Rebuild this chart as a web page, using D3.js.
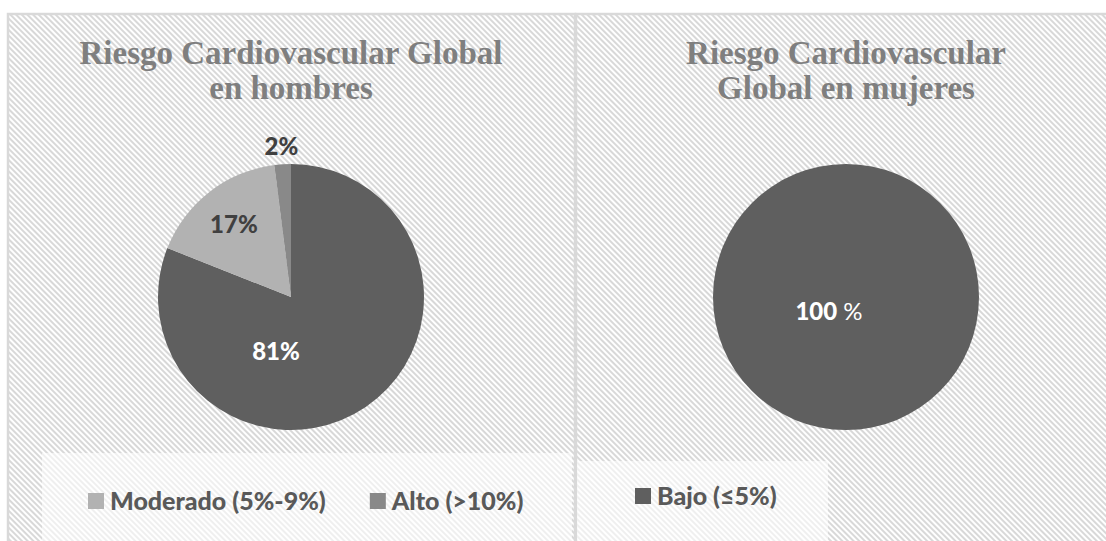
<!DOCTYPE html>
<html>
<head>
<meta charset="utf-8">
<script src="https://cdn.jsdelivr.net/npm/d3@7"></script>
<style>
  body { margin: 0; background: #ffffff; }
  svg { display: block; }
</style>
</head>
<body>
<svg id="chart" width="1106" height="541"></svg>
<script>
// Risk categories and their shares (%) for each group
const categories = ["Bajo (≤5%)", "Moderado (5%-9%)", "Alto (>10%)"];
const menValues = [81, 17, 2];
const womenValues = [100, 0, 0];
const sliceColors = ["#5f5f5f", "#b2b2b2", "#898989"];
const menTitle = ["Riesgo Cardiovascular Global", "en hombres"];
const womenTitle = ["Riesgo Cardiovascular", "Global en mujeres"];
const menLegend = ["Moderado (5%-9%)", "Alto (>10%)"];
const womenLegend = ["Bajo (≤5%)"];

const svg = d3.select("#chart");
const W = 1106, H = 541;

// Diagonal hatch used as the chart-area fill
const defs = svg.append("defs");
const pat = defs.append("pattern")
  .attr("id", "hatch")
  .attr("patternUnits", "userSpaceOnUse")
  .attr("width", 4).attr("height", 4)
  .attr("patternTransform", "rotate(-45)");
pat.append("rect").attr("width", 4).attr("height", 4).attr("fill", "#ffffff");
pat.append("rect").attr("width", 2).attr("height", 4).attr("fill", "#d8d8d8")
  .attr("shape-rendering", "crispEdges");

const color = d3.scaleOrdinal().domain(categories).range(sliceColors);

const panels = [
  { x: 7, w: 567, cx: 291, values: menValues, title: menTitle, legend: menLegend,
    legendBox: { x: 42, y: 453, w: 530 }, legendX: 88, legendBase: 510, legendGap: 44,
    labelPos: [[-15, 53], null, null] },
  { x: 575, w: 560, cx: 846, values: womenValues, title: womenTitle, legend: womenLegend,
    legendBox: { x: 577, y: 461, w: 251 }, legendX: 635, legendBase: 505, legendGap: 44,
    labelPos: [[-17, 13], null, null] }
];

const cy = 297, R = 133, panelTop = 13;

const pie = d3.pie().sort(null).value(d => d.value);
const arc = d3.arc().innerRadius(0).outerRadius(R);

panels.forEach(p => {
  const g = svg.append("g");
  // panel background and border
  g.append("rect")
    .attr("x", p.x + 1).attr("y", panelTop + 1)
    .attr("width", p.w).attr("height", H + 20)
    .attr("fill", "url(#hatch)")
    .attr("stroke", "#d9d9d9").attr("stroke-width", 2.5);

  // title
  const t = g.append("text")
    .attr("text-anchor", "middle")
    .attr("font-family", "'Liberation Serif', serif")
    .attr("font-weight", "bold")
    .attr("font-size", 33)
    .attr("fill", "#7f7f7f");
  p.title.forEach((line, i) => {
    t.append("tspan").attr("x", p.cx).attr("y", 64 + i * 35).text(line);
  });

  // legend box
  g.append("rect")
    .attr("x", p.legendBox.x).attr("y", p.legendBox.y)
    .attr("width", p.legendBox.w).attr("height", H - p.legendBox.y + 5)
    .attr("fill", "#ffffff").attr("fill-opacity", 0.6);

  // pie
  const data = categories.map((c, i) => ({ cat: c, value: p.values[i], idx: i }));
  const arcs = pie(data);
  const pg = g.append("g").attr("transform", `translate(${p.cx},${cy})`);
  pg.selectAll("path")
    .data(arcs.filter(a => a.data.value > 0))
    .join("path")
    .attr("d", arc)
    .attr("fill", a => color(a.data.cat));

  // data labels
  arcs.filter(a => a.data.value > 0).forEach(a => {
    let pos;
    const custom = p.labelPos[a.data.idx];
    const share = a.data.value / d3.sum(p.values);
    if (custom) pos = custom;
    else if (share < 0.05) pos = d3.arc().innerRadius(R * 1.14).outerRadius(R * 1.14).centroid(a);
    else pos = d3.arc().innerRadius(R * 0.7).outerRadius(R * 0.7).centroid(a);
    const dark = a.data.idx === 0;
    const txt = pg.append("text")
      .attr("x", pos[0]).attr("y", pos[1])
      .attr("text-anchor", "middle")
      .attr("dominant-baseline", "central")
      .attr("font-family", "Lato, sans-serif")
      .attr("font-size", 24)
      .attr("fill", dark ? "#ffffff" : "#404040");
    if (share === 1) {
      txt.append("tspan").attr("font-weight", 900).text(String(a.data.value));
      txt.append("tspan").attr("font-weight", "normal").text(" %");
    } else {
      txt.attr("font-weight", 900).text(a.data.value + "%");
    }
  });

  // legend entries
  let lx = p.legendX;
  p.legend.forEach(name => {
    g.append("rect")
      .attr("x", lx).attr("y", p.legendBase - 17)
      .attr("width", 16).attr("height", 16)
      .attr("fill", color(name));
    const lt = g.append("text")
      .attr("x", lx + 22).attr("y", p.legendBase)
      .attr("font-family", "Lato, sans-serif")
      .attr("font-weight", 900)
      .attr("font-size", 25)
      .attr("fill", "#595959")
      .text(name);
    lx += 22 + lt.node().getComputedTextLength() + p.legendGap;
  });
});
</script>
</body>
</html>
